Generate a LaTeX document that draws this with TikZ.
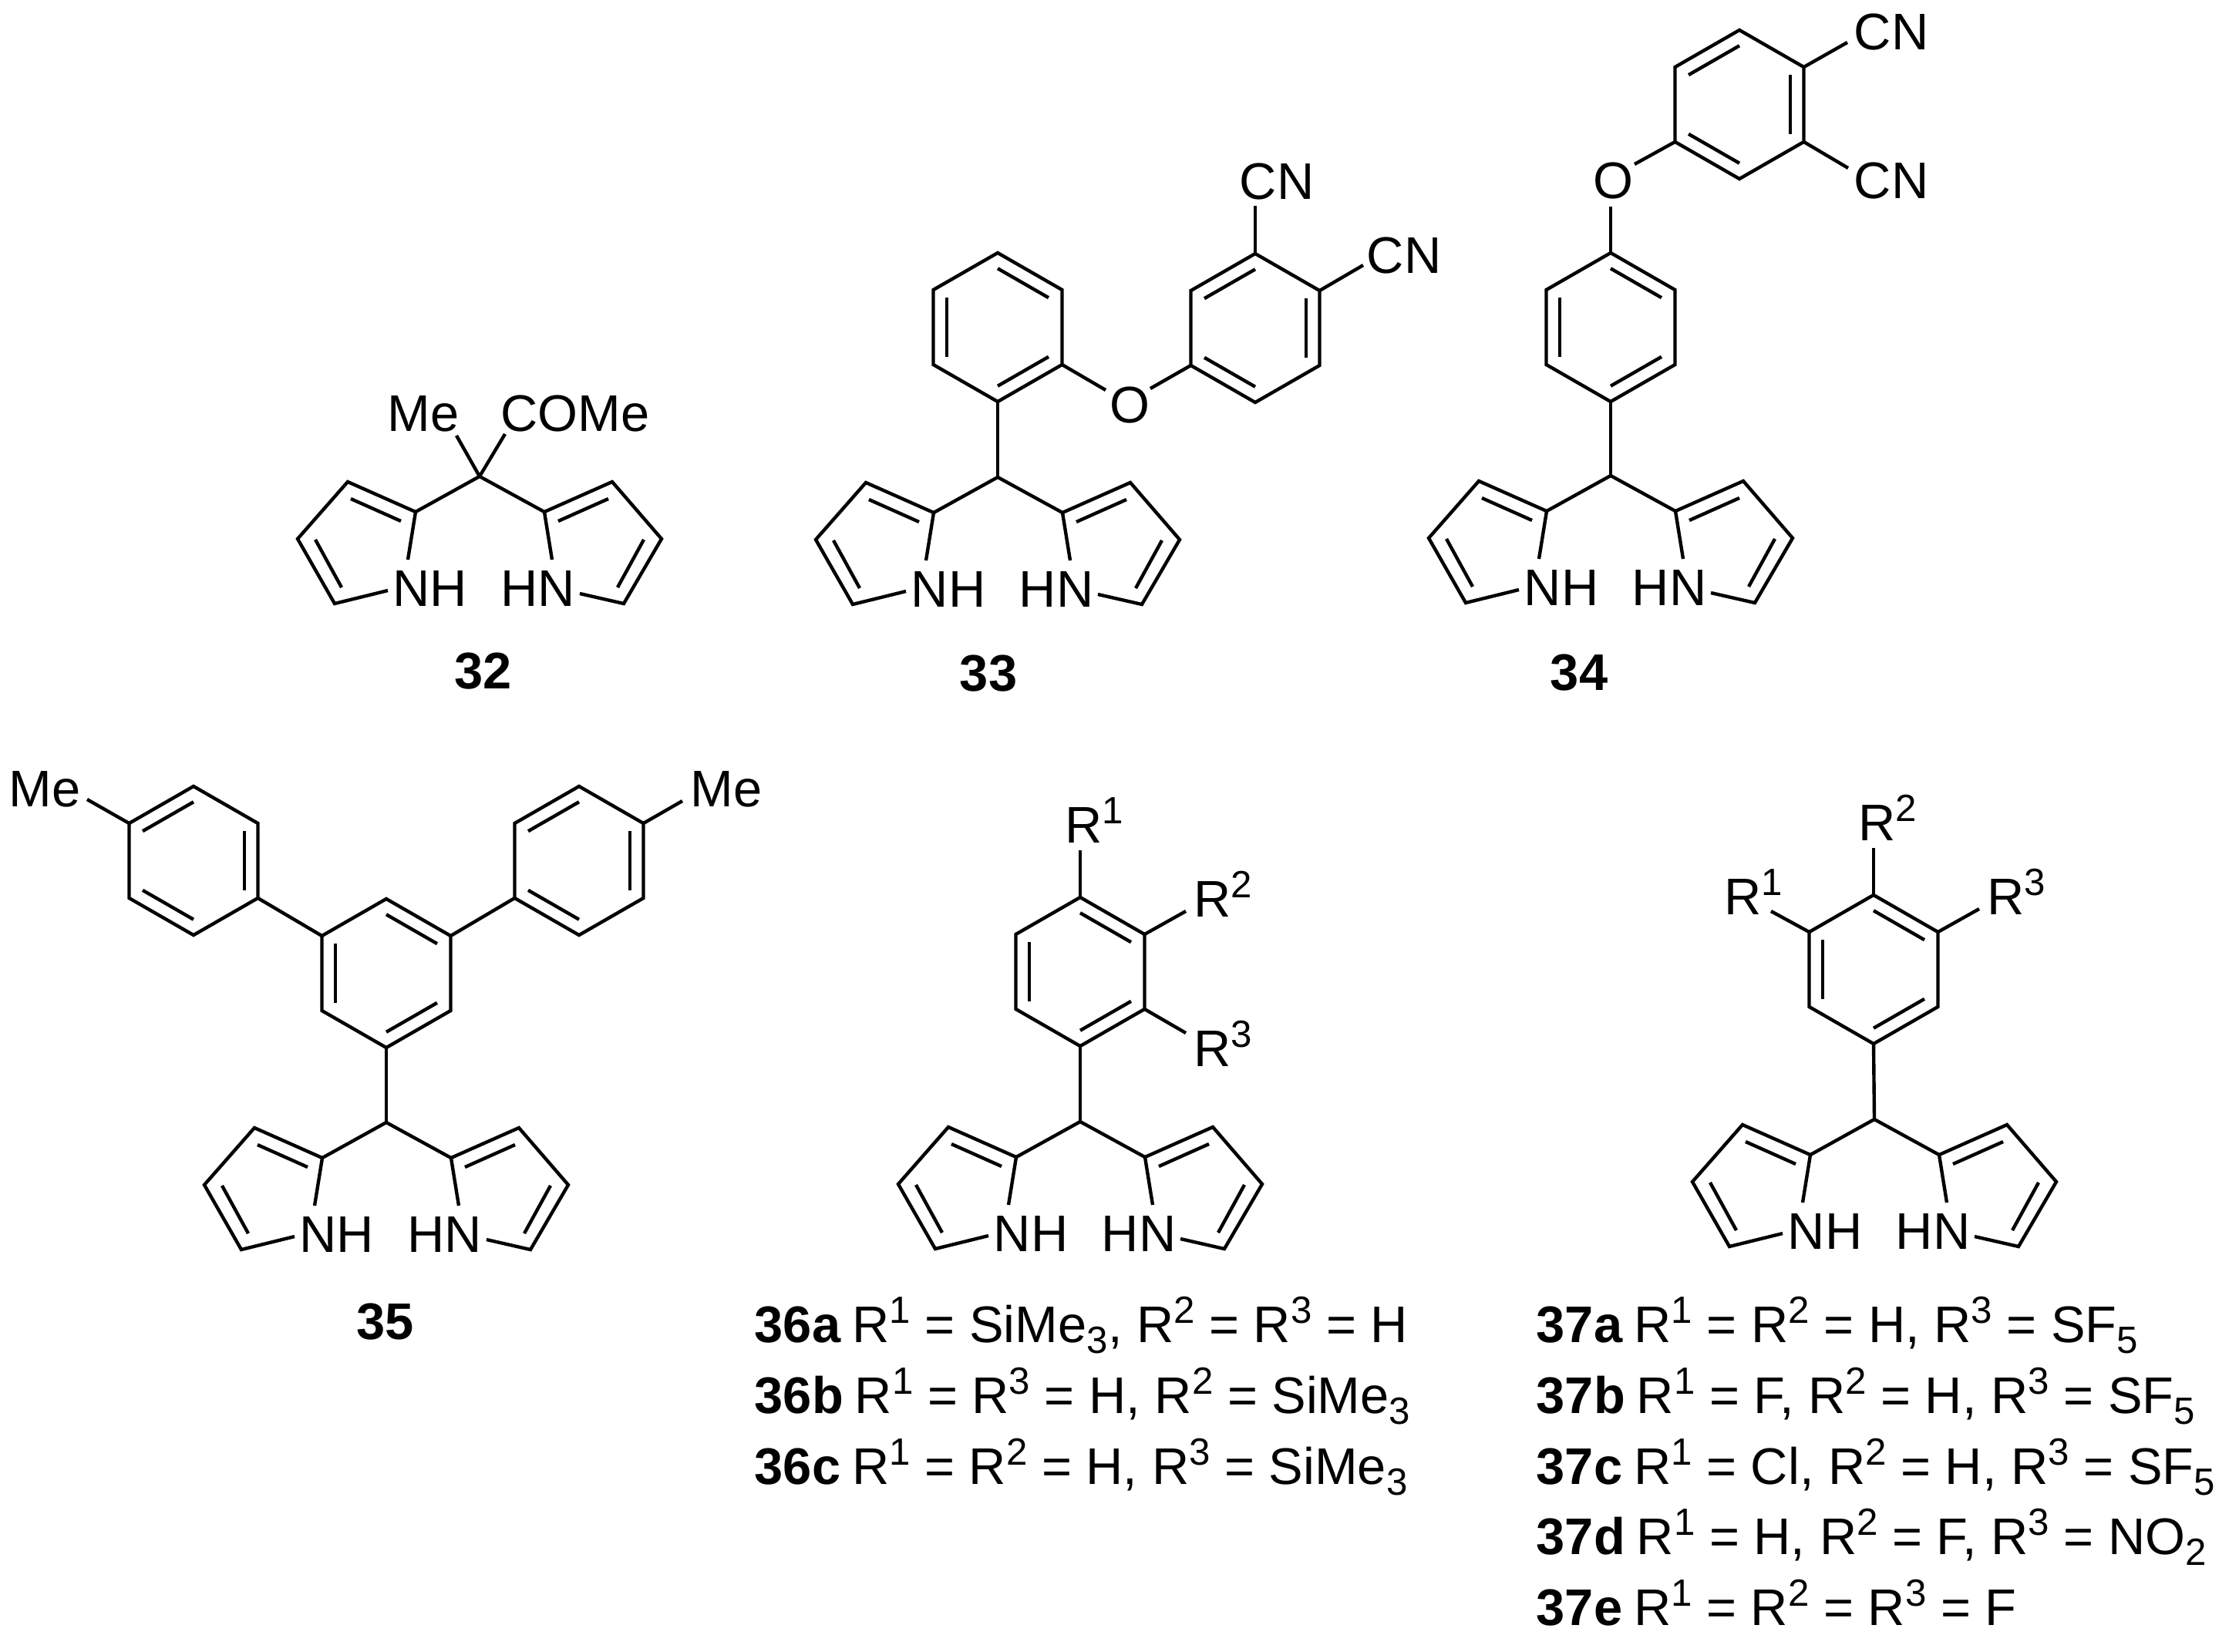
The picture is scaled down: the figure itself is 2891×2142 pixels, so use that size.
\documentclass[tikz,border=0pt]{standalone}
\usepackage{fontspec}
\setmainfont{Liberation Sans}
\usetikzlibrary{calc}
\newcommand{\supr}[1]{\raisebox{.36em}{\fontsize{14}{14}\selectfont #1}}
\newcommand{\subr}[1]{\raisebox{-.21em}{\fontsize{14}{14}\selectfont #1}}
\newcommand{\lbl}[1]{\textbf{#1}\hspace{-1pt}}
\tikzset{
  bond/.style={line width=1.25pt},
  atom/.style={inner sep=0pt, anchor=base, font=\fontsize{19}{19}\selectfont},
  rlabel/.style={atom, anchor=base west},
  cmpd/.style={atom, font=\fontsize{19}{19}\selectfont\bfseries},
}
% benzene ring: name, top vertex, list of inner double bonds
\newcommand{\hexring}[4]{
\begin{scope}[shift={(#2,#3)}]
\coordinate (#1-c) at (0,96.5);
\coordinate (#1-t) at (0,0);
\coordinate (#1-ur) at (83.5,48);
\coordinate (#1-lr) at (83.5,145);
\coordinate (#1-b) at (0,193);
\coordinate (#1-ll) at (-83.5,145);
\coordinate (#1-ul) at (-83.5,48);
\draw[bond](#1-t)--(#1-ur)--(#1-lr)--(#1-b)--(#1-ll)--(#1-ul)--cycle;
\foreach \a/\b in {#4}
{
    \draw[bond]($(#1-c)!.79!(#1-\a)$)--($(#1-c)!.79!(#1-\b)$);
}
\end{scope}
}
% two pyrrole rings on one carbon
\newcommand{\dipyrro}[3]{
\begin{scope}[shift={(#2,#3)}]
\coordinate (#1) at (0,0);
\node[atom] (#1nh) at (-64,168){NH};
\node[atom] (#1hn) at (76,168){HN};
\draw[bond](-93,108) coordinate (#1n1)--(-83,46) coordinate (#1a1)--(-171,7)--(-236,81)--(-188,165)--(-119,148) coordinate (#1n2);
\draw[bond](94,108) coordinate (#1n3)--(84,46) coordinate (#1a2)--(172,7)--(236,81)--(187,165)--(130,152) coordinate (#1n4);
\draw[bond](#1a1)--(#1)--(#1a2);
\draw[bond](-167,29)--(-102,58);
\draw[bond](-213,82)--(-179,144);
\draw[bond](167,29)--(102,58);
\draw[bond](213,82)--(179,144);
\end{scope}
}
\begin{document}
\begin{tikzpicture}[x=.01cm, y=-.01cm]
\useasboundingbox (0,0) rectangle (2891,2142);
\foreach \nm/\x/\y in {m32/622/618, m33/1294/619, m34/2089/617, m35/501/1456, m36/1401/1455, m37/2431/1452}
{
    \dipyrro{\nm}{\x}{\y}
}
\foreach \x/\y/\xtext in {627/893/32, 1282/896/33, 2048/895/34, 500/1737/35}
{
    \node[cmpd] (n\xtext) at (\x,\y){\xtext};
}
% 32
\node[atom] (me32) at (549,559){Me};
\node[atom] (come32) at (746,559){COMe};
\draw[bond](m32)--(592,565) coordinate (e32a);
\draw[bond](m32)--(655,563) coordinate (e32b);
% 33
\hexring{a33}{1294}{328}{t/ur, ul/ll, lr/b}
\hexring{b33}{1628}{329}{t/ul, ur/lr, b/ll}
\draw[bond](a33-b)--(m33);
\node[atom] (o33) at (1465,548){O};
\draw[bond](a33-lr)--(1434,506) coordinate (e33a);
\draw[bond](b33-ll)--(1492,504) coordinate (e33b);
\node[atom] (cn33a) at (1656,258){CN};
\node[atom] (cn33b) at (1821,354){CN};
\draw[bond](b33-t)--(1628,267) coordinate (e33c);
\draw[bond](b33-ur)--(1768,344) coordinate (e33d);
% 34
\hexring{a34}{2089}{328}{t/ur, ul/ll, lr/b}
\hexring{b34}{2256}{39}{t/ul, ur/lr, b/ll}
\draw[bond](a34-b)--(m34);
\node[atom] (o34) at (2092,257){O};
\draw[bond](a34-t)--(2089,268) coordinate (e34a);
\draw[bond](b34-ll)--(2120,213) coordinate (e34b);
\node[atom] (cn34a) at (2453,64){CN};
\node[atom] (cn34b) at (2453,257){CN};
\draw[bond](b34-ur)--(2396,55) coordinate (e34c);
\draw[bond](b34-lr)--(2397,218) coordinate (e34d);
% 35
\hexring{c35}{501}{1166}{t/ur, ul/ll, lr/b}
\hexring{a35}{251}{1020}{t/ul, ur/lr, b/ll}
\hexring{b35}{751}{1020}{t/ul, ur/lr, b/ll}
\draw[bond](c35-b)--(m35);
\draw[bond](a35-lr)--(c35-ul);
\draw[bond](b35-ll)--(c35-ur);
\node[atom] (me35a) at (58,1046){Me};
\node[atom] (me35b) at (942,1046){Me};
\draw[bond](a35-ul)--(113,1037) coordinate (e35a);
\draw[bond](b35-ur)--(885,1039) coordinate (e35b);
% 36
\hexring{a36}{1401}{1164}{t/ur, ul/ll, lr/b}
\draw[bond](a36-b)--(m36);
\node[rlabel] (r361) at (1381,1093){R\supr{1}};
\node[rlabel] (r362) at (1548,1189){R\supr{2}};
\node[rlabel] (r363) at (1548,1383){R\supr{3}};
\draw[bond](a36-t)--(1401,1103) coordinate (e36a);
\draw[bond](a36-ur)--(1538,1182) coordinate (e36b);
\draw[bond](a36-lr)--(1538,1340) coordinate (e36c);
% 37
\hexring{a37}{2430}{1161}{t/ur, ul/ll, lr/b}
\draw[bond](a37-b)--(m37);
\node[rlabel] (r371) at (2236,1186){R\supr{1}};
\node[rlabel] (r372) at (2410,1090){R\supr{2}};
\node[rlabel] (r373) at (2577,1186){R\supr{3}};
\draw[bond](a37-ul)--(2297,1182) coordinate (e37a);
\draw[bond](a37-t)--(2430,1100) coordinate (e37b);
\draw[bond](a37-ur)--(2567,1179) coordinate (e37c);
% substituent lists
\node[rlabel] (l36a) at (978,1741){\lbl{36a} R\supr{1} = SiMe\subr{3}, R\supr{2} = R\supr{3} = H};
\node[rlabel] (l36b) at (978,1833){\lbl{36b} R\supr{1} = R\supr{3} = H, R\supr{2} = SiMe\subr{3}};
\node[rlabel] (l36c) at (978,1925){\lbl{36c} R\supr{1} = R\supr{2} = H, R\supr{3} = SiMe\subr{3}};
\node[rlabel] (l37a) at (1992,1741){\lbl{37a} R\supr{1} = R\supr{2} = H, R\supr{3} = SF\subr{5}};
\node[rlabel] (l37b) at (1992,1833){\lbl{37b} R\supr{1} = F, R\supr{2} = H, R\supr{3} = SF\subr{5}};
\node[rlabel] (l37c) at (1992,1925){\lbl{37c} R\supr{1} = Cl, R\supr{2} = H, R\supr{3} = SF\subr{5}};
\node[rlabel] (l37d) at (1992,2016){\lbl{37d} R\supr{1} = H, R\supr{2} = F, R\supr{3} = NO\subr{2}};
\node[rlabel] (l37e) at (1992,2108){\lbl{37e} R\supr{1} = R\supr{2} = R\supr{3} = F};
\end{tikzpicture}
\end{document}
